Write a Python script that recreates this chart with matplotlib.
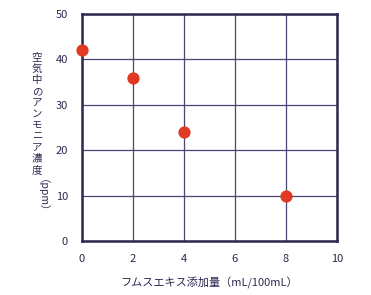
import matplotlib
matplotlib.use("Agg")
import matplotlib.pyplot as plt

plt.rcParams['font.family'] = ['Noto Sans CJK JP', 'DejaVu Sans']

# data
dose = [0, 2, 4, 8]            # mL/100mL
ammonia = [42, 36, 24, 10]     # ppm
xticks = [0, 2, 4, 6, 8, 10]
yticks = [0, 10, 20, 30, 40, 50]
xlabel = "フムスエキス添加量（mL/100mL）"
ylabel_jp = "空気中のアンモニア濃度"
ylabel_unit = "（ppm）"

navy = "#2b2950"
grid_c = "#4a4572"
red = "#e03a24"

fig = plt.figure(figsize=(3.71, 2.95), dpi=100)
ax = fig.add_axes([82/371, 54/295, 255/371, 227/295])

ax.scatter(dose, ammonia, s=78, color=red, zorder=5, clip_on=False, linewidths=0)

ax.set_xlim(0, 10)
ax.set_ylim(0, 50)
ax.set_xticks(xticks)
ax.set_yticks(yticks)
ax.grid(True, color=grid_c, linewidth=0.9)
ax.set_axisbelow(True)
for s in ax.spines.values():
    s.set_color(navy)
    s.set_linewidth(1.8)
ax.tick_params(length=0, labelsize=8, colors=navy)
ax.tick_params(axis='x', pad=9)
ax.tick_params(axis='y', pad=10)

ax.set_xlabel(xlabel, fontsize=8, color=navy, labelpad=10)

# vertical Japanese label: upright characters one by one, then the unit rotated
for i, ch in enumerate(ylabel_jp):
    fig.text(37/371, 1 - (58 + 11.2*i)/295, ch, fontsize=7.5, color=navy,
             ha='center', va='center')
fig.text(37/371, 1 - 179/295, ylabel_unit, fontsize=7.5, color=navy,
         ha='center', va='top', rotation=-90)

fig.savefig("out.png", dpi=100)
